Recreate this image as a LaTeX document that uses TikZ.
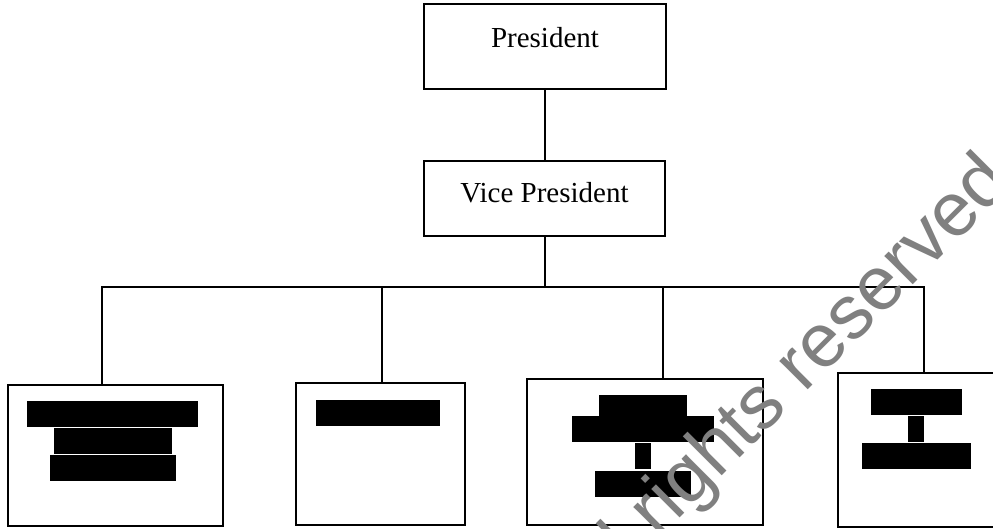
\documentclass[tikz,border=0pt]{standalone}
\usepackage{fontspec}
\setmainfont{Liberation Serif}
\newfontfamily\wmfont{Liberation Sans}
\definecolor{wmgray}{RGB}{128,128,128}
\begin{document}
\begin{tikzpicture}[x=1pt,y=-1pt,
  box/.style={draw=black, line width=1.6pt, inner sep=0pt, fill=white},
  wire/.style={draw=black, line width=1.4pt},
  bar/.style={fill=black},
  lbl/.style={font=\fontsize{29}{31}\selectfont}]
\clip (0,0) rectangle (993,529);
\fill[white] (0,0) rectangle (993,529);
% top boxes
\node[box, lbl, minimum width=242pt, minimum height=85pt, text height=20pt, text depth=17pt] (pres) at (545,46.5) {President};
\node[box, lbl, minimum width=241pt, minimum height=75pt, text height=20pt, text depth=11pt] (vp) at (544.5,198.5) {Vice President};
% bottom boxes
\node[box, minimum width=215pt, minimum height=141pt] (b1) at (115.5,455.5) {};
\node[box, minimum width=169pt, minimum height=142pt] (b2) at (380.5,454) {};
\node[box, minimum width=236pt, minimum height=146pt] (b3) at (645,452) {};
\node[box, minimum width=167pt, minimum height=154pt] (b4) at (921.5,450) {};
% connectors
\coordinate (hub) at (545,287);
\coordinate (d1) at (102,287);
\coordinate (d2) at (382,287);
\coordinate (d3) at (663,287);
\coordinate (d4) at (924,287);
\draw[wire] (pres.south -| hub) -- (vp.north -| hub);
\draw[wire] (vp.south -| hub) -- (hub);
\draw[wire] ([xshift=-1pt]d1) -- ([xshift=1pt]d4);
\draw[wire] (d1) -- (d1 |- b1.north);
\draw[wire] (d2) -- (d2 |- b2.north);
\draw[wire] (d3) -- (d3 |- b3.north);
\draw[wire] (d4) -- (d4 |- b4.north);
% redaction bars
\fill[bar] (27,401) rectangle (198,427);
\fill[bar] (54,428) rectangle (172,454);
\fill[bar] (50,455) rectangle (176,481);
\fill[bar] (316,400) rectangle (440,426);
\fill[bar] (599,395) rectangle (687,416);
\fill[bar] (572,416) rectangle (714,442);
\fill[bar] (635,443) rectangle (651,469);
\fill[bar] (595,471) rectangle (691,497);
\fill[bar] (871,389) rectangle (962,415);
\fill[bar] (908,416) rectangle (924,442);
\fill[bar] (862,443) rectangle (971,469);
% watermark
\node[font=\wmfont\fontsize{76}{76}\selectfont, text=wmgray, rotate=45, anchor=base east, inner sep=0pt] (wm) at (1014,184) {All rights reserved};
\end{tikzpicture}
\end{document}
